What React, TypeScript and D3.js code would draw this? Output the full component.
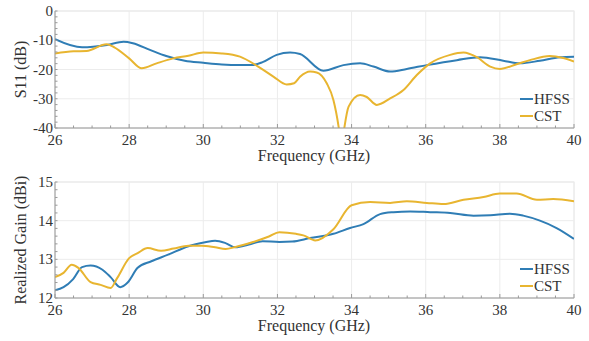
import React from "react";
import * as d3 from "d3";

const freqTicks = [26, 28, 30, 32, 34, 36, 38, 40];
const s11Ticks = [0, -10, -20, -30, -40];
const gainTicks = [12, 13, 14, 15];
const seriesNames = ["HFSS", "CST"];

const s11HfssF = [26, 26.73, 27.4, 27.85, 28.1, 28.56, 29, 29.5, 30, 30.5, 31, 31.3, 31.6, 31.98, 32.34, 32.61, 33.24, 33.78, 34.23, 34.59, 35.04, 35.49, 36.03, 36.84, 37.47, 38.09, 38.54, 39.08, 39.62, 40];
const s11HfssV = [-9.6, -12.4, -11.6, -10.5, -11, -13.3, -15.4, -17, -17.7, -18.3, -18.5, -18.5, -17.5, -15, -14.2, -14.7, -20.4, -18.5, -17.9, -19, -20.7, -19.8, -18.5, -16.8, -15.8, -17, -17.9, -17, -15.8, -15.6];

const s11CstF = [26, 26.5, 26.85, 27.39, 27.6, 28, 28.34, 28.74, 29.19, 29.6, 30, 30.5, 30.99, 31.48, 31.9, 32.25, 32.45, 32.61, 32.88, 33.06, 33.33, 33.51, 33.65, 33.73, 33.81, 33.92, 34.23, 34.41, 34.68, 35.04, 35.4, 35.76, 36.12, 36.66, 37.02, 37.38, 37.74, 38, 38.45, 38.81, 39.35, 39.71, 40];
const s11CstV = [-14.5, -13.8, -13.7, -11.4, -12.4, -16.2, -19.6, -17.9, -16.2, -15.3, -14.2, -14.5, -15.6, -19, -22.5, -25.1, -24.7, -22.5, -20.7, -21, -24.7, -30.4, -39.5, -47, -39.5, -32.7, -28.7, -29.4, -32.1, -29.9, -27, -21.9, -17.9, -15, -14.2, -15.8, -19, -19.8, -18.2, -16.8, -15.4, -16.1, -17.3];

const gainHfssF = [26, 26.23, 26.49, 26.73, 26.96, 27.28, 27.5, 27.76, 27.96, 28.23, 28.6, 29.05, 29.6, 30.05, 30.32, 30.6, 30.87, 31.23, 31.6, 32.05, 32.4, 32.88, 33.51, 33.96, 34.32, 34.77, 35.13, 35.58, 36.12, 36.66, 37.29, 37.74, 38.27, 38.63, 39.08, 39.53, 40];
const gainHfssV = [12.2, 12.28, 12.49, 12.8, 12.84, 12.73, 12.54, 12.28, 12.4, 12.78, 12.95, 13.12, 13.34, 13.44, 13.48, 13.42, 13.31, 13.38, 13.47, 13.45, 13.46, 13.55, 13.66, 13.81, 13.91, 14.17, 14.22, 14.24, 14.22, 14.2, 14.13, 14.14, 14.18, 14.13, 14.0, 13.81, 13.53];

const gainCstF = [26, 26.23, 26.45, 26.63, 26.96, 27.23, 27.5, 27.68, 28, 28.23, 28.5, 28.86, 29.2, 29.6, 29.96, 30.32, 30.6, 30.87, 31.32, 31.77, 32.05, 32.5, 32.7, 33.02, 33.51, 34, 34.5, 35.04, 35.49, 36.03, 36.48, 37.02, 37.56, 38, 38.45, 39, 39.44, 40];
const gainCstV = [12.54, 12.65, 12.86, 12.78, 12.41, 12.34, 12.26, 12.52, 13.03, 13.16, 13.29, 13.22, 13.28, 13.35, 13.35, 13.31, 13.27, 13.32, 13.44, 13.59, 13.7, 13.66, 13.62, 13.49, 13.78, 14.4, 14.48, 14.46, 14.5, 14.46, 14.43, 14.54, 14.61, 14.7, 14.7, 14.54, 14.56, 14.5];

const colors = ["#2f7db5", "#e8b530"];
const FONT = "'Liberation Serif', 'Times New Roman', serif";

type PanelProps = {
  top: number;
  bottom: number;
  yDomain: [number, number];
  yTicks: number[];
  yMinorStep: number;
  yLabel: string;
  series: { f: number[]; v: number[] }[];
  curve: d3.CurveFactory;
  id: string;
};

const LEFT = 55;
const RIGHT = 574;

function Panel({ top, bottom, yDomain, yTicks, yMinorStep, yLabel, series, curve, id }: PanelProps) {
  const x = d3.scaleLinear().domain([26, 40]).range([LEFT, RIGHT]);
  const y = d3.scaleLinear().domain(yDomain).range([bottom, top]);
  const xMinor = d3.range(26, 40.001, 0.5);
  const yMinor = d3.range(yDomain[0], yDomain[1] + 1e-6, yMinorStep);
  const line = d3
    .line<[number, number]>()
    .x((d) => x(d[0]))
    .y((d) => y(d[1]))
    .curve(curve);
  return (
    <g>
      <defs>
        <clipPath id={id}>
          <rect x={LEFT} y={top} width={RIGHT - LEFT} height={bottom - top} />
        </clipPath>
      </defs>
      <rect x={LEFT} y={top} width={RIGHT - LEFT} height={bottom - top} fill="#fff" stroke="#e6e6e6" strokeWidth={1} />
      {freqTicks.map((t) => (
        <line key={"gx" + t} x1={x(t)} x2={x(t)} y1={top} y2={bottom} stroke="#ececec" strokeWidth={1} />
      ))}
      {yTicks.map((t) => (
        <line key={"gy" + t} x1={LEFT} x2={RIGHT} y1={y(t)} y2={y(t)} stroke="#ececec" strokeWidth={1} />
      ))}
      <g clipPath={`url(#${id})`}>
        {series.map((s, i) => (
          <path
            key={i}
            d={line(s.f.map((f, j) => [f, s.v[j]] as [number, number])) || ""}
            fill="none"
            stroke={colors[i]}
            strokeWidth={2}
          />
        ))}
      </g>
      <line x1={LEFT} x2={RIGHT} y1={bottom} y2={bottom} stroke="#9a9a9a" strokeWidth={1} />
      <line x1={LEFT} x2={LEFT} y1={top} y2={bottom} stroke="#9a9a9a" strokeWidth={1} />
      {xMinor.map((t) => (
        <line key={"xm" + t} x1={x(t)} x2={x(t)} y1={bottom} y2={bottom - (t % 2 === 0 ? 4 : 2.5)} stroke="#9a9a9a" strokeWidth={1} />
      ))}
      {yMinor.map((t) => (
        <line key={"ym" + t} x1={LEFT} x2={LEFT + 2.5} y1={y(t)} y2={y(t)} stroke="#9a9a9a" strokeWidth={1} />
      ))}
      {freqTicks.map((t) => (
        <text key={"xl" + t} x={x(t)} y={bottom + 17} textAnchor="middle" fontSize={15} fill="#333" fontFamily={FONT}>
          {t}
        </text>
      ))}
      {yTicks.map((t) => (
        <text key={"yl" + t} x={LEFT - 2} y={y(t) + 5} textAnchor="end" fontSize={15} fill="#333" fontFamily={FONT}>
          {t}
        </text>
      ))}
      <text x={314} y={bottom + 33} textAnchor="middle" fontSize={16} fill="#333" fontFamily={FONT}>
        Frequency (GHz)
      </text>
      <text
        transform={`translate(26,${(top + bottom) / 2}) rotate(-90)`}
        textAnchor="middle"
        fontSize={16}
        fill="#333"
        fontFamily={FONT}
      >
        {yLabel}
      </text>
      {seriesNames.map((n, i) => (
        <g key={n}>
          <line x1={520} x2={533} y1={bottom - 29 + i * 17} y2={bottom - 29 + i * 17} stroke={colors[i]} strokeWidth={2} />
          <text x={534} y={bottom - 24 + i * 17} fontSize={15} fill="#333" fontFamily={FONT}>
            {n}
          </text>
        </g>
      ))}
    </g>
  );
}

export default function App() {
  return (
    <svg width={589} height={341} style={{ position: "absolute", left: 0, top: 0, background: "#fff" }}>
      <rect width={589} height={341} fill="#fff" />
      <Panel
        id="c1"
        top={11}
        bottom={128}
        yDomain={[-40, 0]}
        yTicks={s11Ticks}
        yMinorStep={2}
        yLabel="S11 (dB)"
        series={[
          { f: s11HfssF, v: s11HfssV },
          { f: s11CstF, v: s11CstV },
        ]}
        curve={d3.curveMonotoneX}
      />
      <Panel
        id="c2"
        top={182}
        bottom={298}
        yDomain={[12, 15]}
        yTicks={gainTicks}
        yMinorStep={0.2}
        yLabel="Realized Gain (dBi)"
        series={[
          { f: gainHfssF, v: gainHfssV },
          { f: gainCstF, v: gainCstV },
        ]}
        curve={d3.curveMonotoneX}
      />
    </svg>
  );
}
